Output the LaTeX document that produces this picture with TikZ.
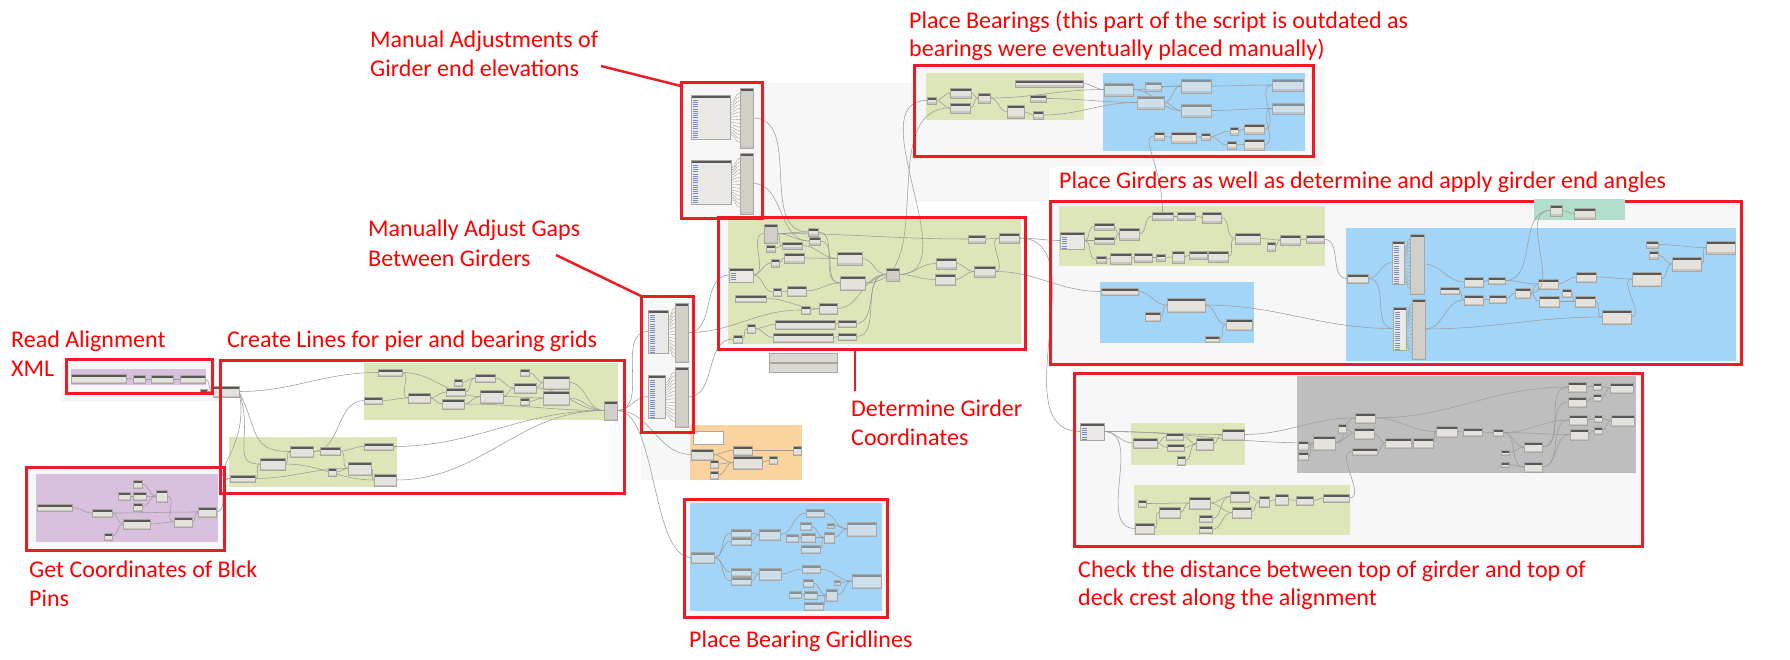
\documentclass[tikz,border=0pt]{standalone}
\usepackage{fontspec}
\setmainfont{Carlito}
\definecolor{rbox}{RGB}{237,28,36}
\definecolor{rtxt}{RGB}{255,0,0}
\definecolor{canvas}{RGB}{247,247,247}
\definecolor{ggreen}{RGB}{220,230,185}
\definecolor{gpurple}{RGB}{216,192,222}
\definecolor{gblue}{RGB}{162,213,247}
\definecolor{gorange}{RGB}{251,211,158}
\definecolor{ggray}{RGB}{190,190,190}
\definecolor{gteal}{RGB}{178,223,203}
\definecolor{nhead}{RGB}{88,88,88}
\definecolor{nbody}{RGB}{228,226,221}
\definecolor{nfoot}{RGB}{200,197,191}
\definecolor{nedge}{RGB}{170,167,160}
\definecolor{fhead}{RGB}{130,145,155}
\definecolor{fbody}{RGB}{206,223,233}
\definecolor{ffoot}{RGB}{180,199,211}
\definecolor{wirec}{RGB}{155,155,155}
\definecolor{listc}{RGB}{120,140,200}
\definecolor{tallc}{RGB}{210,207,201}
\definecolor{wbody}{RGB}{234,232,228}
\definecolor{notec}{RGB}{218,216,211}
\pgfdeclarelayer{bg}
\pgfsetlayers{bg,main}
\tikzset{
 dnode/.style n args={3}{draw=nedge, fill=#2, line width=0.3pt, inner sep=0pt, outer sep=0pt, anchor=north west,
   path picture={\fill[#1] (path picture bounding box.north west) rectangle ([yshift=-2.6pt]path picture bounding box.north east);
                 \fill[#3] (path picture bounding box.south west) rectangle ([yshift=1.5pt]path picture bounding box.south east);}},
 dn/.style={dnode={nhead}{nbody}{nfoot}},
 fz/.style={dnode={fhead}{fbody}{ffoot}},
 tn/.style={dnode={nhead}{tallc}{nfoot}},
 wn/.style={draw=nedge, fill=wbody, line width=0.3pt, inner sep=0pt, outer sep=0pt, anchor=north west,
   path picture={\fill[nhead] (path picture bounding box.north west) rectangle ([yshift=-2.6pt]path picture bounding box.north east);
     \foreach \k in {0,...,17}{\draw[listc,line width=0.5pt] ([xshift=1.5pt,yshift=-5pt-\k*2.2pt]path picture bounding box.north west) -- ++(5pt,0pt);}}},
 nt/.style={draw=nedge, fill=notec, line width=0.3pt, inner sep=0pt, outer sep=0pt, anchor=north west},
 wire/.style={draw=wirec, line width=0.55pt},
 rb/.style={draw=rbox, line width=3pt, inner sep=0pt, outer sep=0pt, anchor=north west},
 ptr/.style={draw=rbox, line width=2.5pt},
 lbl/.style={text=rtxt, font=\fontsize{24}{29}\selectfont, inner sep=0pt, anchor=base west},
}
\newcommand\dnod[6][dn]{\node[#1,minimum width=#5pt,minimum height=#6pt] (#2) at (#3,#4) {};}
\newcommand\dwires[1]{\foreach \a/\b in {#1}{\draw[wire] (\a.east) to[out=0,in=180] (\b.west);}}
\newcommand\rbx[5]{\node[rb,minimum width=#4pt,minimum height=#5pt] (#1) at (#2,#3) {};}
\newcommand\fanw[2]{\foreach \k in {0,...,13}{\draw[wire,line width=0.35pt] ([yshift=-8pt-\k*2.4pt]#1.north east) to[out=0,in=180] ([yshift=-5pt-\k*3.8pt]#2.north west);}}

\begin{document}
\begin{tikzpicture}[x=1pt,y=-1pt]
\useasboundingbox (0,0) rectangle (1790,660);

% ---------------- Read Alignment XML
\dnod{ra1}{71}{374}{55}{9}
\dnod{ra2}{133}{375}{12}{8}
\dnod{ra3}{151}{375}{22}{8}
\dnod{ra4}{180}{375}{25}{8}
\dnod{ra5}{200}{389}{7}{5}
\dnod{ra6}{213}{386}{26}{11}

% ---------------- Create Lines top
\dnod{ct1}{378}{369}{24}{7}
\dnod{ct2}{364}{397}{18}{7}
\dnod{ct3}{408}{393}{22}{10}
\dnod{ct4}{442}{399}{22}{10}
\dnod{ct5}{446}{388}{19}{8}
\dnod{ct6}{454}{379}{8}{7}
\dnod{ct7}{475}{374}{20}{8}
\dnod{ct8}{480}{390}{23}{13}
\dnod{ct9}{514}{383}{22}{10}
\dnod{ct10}{520}{369}{9}{7}
\dnod{ct11}{520}{398}{9}{7}
\dnod{ct12}{543}{376}{26}{13}
\dnod{ct13}{543}{391}{26}{14}
\dnod[tn]{ct14}{604}{401}{13}{19}
% bottom
\dnod{cb1}{290}{446}{23}{11}
\dnod{cb2}{320}{447}{20}{8}
\dnod{cb3}{364}{443}{29}{7}
\dnod{cb4}{260}{458}{25}{12}
\dnod{cb5}{230}{475}{25}{7}
\dnod{cb6}{328}{468}{8}{8}
\dnod{cb7}{348}{462}{23}{13}
\dnod{cb8}{374}{474}{22}{12}

% ---------------- Get Coordinates
\dnod{gc1}{37}{504}{35}{7}
\dnod{gc2}{92}{509}{20}{8}
\dnod{gc3}{123}{519}{27}{10}
\dnod{gc4}{104}{533}{8}{7}
\dnod{gc5}{133}{480}{9}{8}
\dnod{gc6}{118}{492}{12}{8}
\dnod{gc7}{133}{492}{13}{8}
\dnod{gc8}{133}{503}{9}{8}
\dnod{gc9}{156}{490}{11}{12}
\dnod{gc10}{174}{517}{18}{10}
\dnod{gc11}{198}{507}{18}{10}

% ---------------- Manual adjustments
\dnod[wn]{ma1}{691}{95}{39}{44}
\dnod[tn]{ma2}{740}{88}{13}{60}
\dnod[wn]{ma3}{691}{160}{40}{44}
\dnod[tn]{ma4}{740}{153}{13}{61}
\dnod[wn]{mg1}{648}{310}{20}{43}
\dnod[tn]{mg2}{675}{303}{13}{59}
\dnod[wn]{mg3}{648}{375}{17}{43}
\dnod[tn]{mg4}{675}{367}{13}{60}

% ---------------- Determine girder coordinates
\dnod[tn]{d1}{764}{224}{13}{19}
\dnod{d2}{766}{245}{9}{7}
\dnod{d3}{782}{242}{20}{7}
\dnod{d4}{808}{228}{10}{8}
\dnod{d5}{809}{237}{11}{8}
\dnod[wn]{d6}{729}{268}{24}{14}
\dnod{d7}{771}{259}{8}{8}
\dnod{d8}{784}{253}{20}{10}
\dnod{d9}{837}{252}{25}{13}
\dnod{d10}{773}{288}{8}{8}
\dnod{d11}{787}{286}{19}{10}
\dnod{d12}{840}{276}{25}{14}
\dnod[tn]{d13}{886}{268}{13}{13}
\dnod{d14}{936}{258}{20}{11}
\dnod{d15}{935}{274}{20}{11}
\dnod{d16}{974}{266}{21}{11}
\dnod{d17}{968}{235}{17}{8}
\dnod{d18}{999}{233}{20}{10}
\dnod{d19}{735}{295}{31}{7}
\dnod{d20}{801}{306}{9}{8}
\dnod{d21}{819}{303}{18}{11}
\dnod{d22}{747}{324}{8}{9}
\dnod{d23}{733}{335}{9}{8}
\dnod{d24}{775}{320}{60}{9}
\dnod{d25}{773}{333}{60}{9}
\dnod{d26}{838}{320}{18}{7}
\dnod{d27}{838}{333}{18}{7}
\node[nt,minimum width=68pt,minimum height=9pt] (dq1) at (769,353) {};
\node[nt,minimum width=68pt,minimum height=9pt] (dq2) at (769,363) {};

% ---------------- Orange group
\node[nt,fill=white,minimum width=30pt,minimum height=13pt] (or1) at (693,431) {};
\dnod{or2}{691}{449}{22}{11}
\dnod{or3}{710}{460}{8}{8}
\dnod{or4}{710}{471}{8}{8}
\dnod{or5}{733}{446}{19}{9}
\dnod{or6}{733}{456}{29}{13}
\dnod{or7}{769}{456}{8}{8}
\dnod{or8}{793}{446}{8}{9}

% ---------------- Place Bearing Gridlines
\dnod[fz]{bl1}{691}{552}{23}{11}
\dnod[fz]{bl2}{731}{529}{20}{8}
\dnod[fz]{bl3}{731}{537}{20}{8}
\dnod[fz]{bl4}{759}{529}{21}{11}
\dnod[fz]{bl5}{806}{509}{18}{8}
\dnod[fz]{bl6}{800}{522}{11}{8}
\dnod[fz]{bl7}{786}{534}{12}{8}
\dnod[fz]{bl8}{801}{533}{14}{9}
\dnod[fz]{bl9}{801}{545}{19}{8}
\dnod[fz]{bl10}{824}{532}{10}{11}
\dnod[fz]{bl11}{827}{523}{7}{5}
\dnod[fz]{bl12}{847}{522}{29}{14}
\dnod[fz]{bl13}{731}{568}{20}{8}
\dnod[fz]{bl14}{731}{577}{20}{8}
\dnod[fz]{bl15}{759}{568}{22}{12}
\dnod[fz]{bl16}{802}{565}{18}{8}
\dnod[fz]{bl17}{803}{579}{10}{8}
\dnod[fz]{bl18}{789}{591}{12}{7}
\dnod[fz]{bl19}{804}{591}{13}{8}
\dnod[fz]{bl20}{804}{602}{19}{8}
\dnod[fz]{bl21}{826}{589}{11}{12}
\dnod[fz]{bl22}{834}{580}{6}{5}
\dnod[fz]{bl23}{852}{574}{29}{14}

% ---------------- Place Bearings
\dnod{pb1}{927}{97}{9}{7}
\dnod{pb2}{950}{88}{21}{10}
\dnod{pb3}{950}{103}{20}{10}
\dnod{pb4}{978}{93}{12}{10}
\dnod{pb5}{1015}{80}{68}{7}
\dnod{pb6}{1030}{95}{16}{7}
\dnod{pb7}{1007}{105}{17}{13}
\dnod{pb8}{1033}{111}{10}{8}
\dnod[fz]{pbb1}{1104}{83}{29}{13}
\dnod[fz]{pbb2}{1145}{82}{16}{9}
\dnod[fz]{pbb3}{1137}{96}{27}{13}
\dnod[fz]{pbb4}{1181}{79}{30}{14}
\dnod[fz]{pbb5}{1181}{104}{30}{13}
\dnod[fz]{pbb6}{1272}{79}{31}{12}
\dnod[fz]{pbb7}{1272}{103}{32}{11}
\dnod{pbb8}{1154}{132}{10}{8}
\dnod{pbb9}{1171}{132}{25}{11}
\dnod{pbb10}{1201}{133}{9}{7}
\dnod{pbb11}{1230}{127}{8}{8}
\dnod{pbb12}{1244}{124}{20}{10}
\dnod{pbb13}{1227}{141}{9}{8}
\dnod{pbb14}{1244}{139}{20}{11}

% ---------------- Place Girders
\dnod[wn]{pg1}{1060}{232}{24}{17}
\dnod{pg2}{1094}{223}{20}{7}
\dnod{pg3}{1094}{237}{20}{7}
\dnod{pg4}{1119}{228}{20}{12}
\dnod{pg5}{1152}{212}{21}{8}
\dnod{pg6}{1177}{212}{18}{8}
\dnod{pg7}{1202}{212}{19}{11}
\dnod{pg8}{1235}{233}{25}{11}
\dnod{pg9}{1267}{242}{8}{9}
\dnod{pg10}{1280}{235}{20}{10}
\dnod{pg11}{1306}{235}{18}{8}
\dnod{pg12}{1096}{256}{10}{7}
\dnod{pg13}{1110}{253}{21}{11}
\dnod{pg14}{1134}{253}{18}{9}
\dnod{pg15}{1156}{254}{9}{7}
\dnod{pg16}{1172}{251}{12}{12}
\dnod{pg17}{1189}{251}{18}{8}
\dnod{pg18}{1208}{251}{20}{11}
\dnod{pgs1}{1101}{288}{37}{7}
\dnod{pgs2}{1167}{298}{38}{14}
\dnod{pgs3}{1145}{312}{15}{9}
\dnod{pgs4}{1226}{319}{26}{11}
\dnod{pgs5}{1205}{336}{14}{6}
\dnod{pbig1}{1347}{274}{21}{9}
\dnod[wn]{pbig2}{1392}{241}{12}{43}
\dnod[tn]{pbig3}{1410}{234}{14}{60}
\dnod[wn]{pbig4}{1393}{307}{13}{43}
\dnod[tn]{pbig5}{1412}{299}{13}{60}
\dnod{pbig6}{1464}{277}{19}{10}
\dnod{pbig7}{1488}{277}{17}{7}
\dnod{pbig8}{1440}{287}{19}{7}
\dnod{pbig9}{1464}{295}{19}{10}
\dnod{pbig10}{1489}{295}{17}{8}
\dnod{pbig11}{1515}{288}{15}{10}
\dnod{pbig12}{1538}{279}{20}{10}
\dnod{pbig13}{1539}{296}{20}{11}
\dnod{pbig14}{1562}{289}{9}{8}
\dnod{pbig15}{1576}{272}{20}{10}
\dnod{pbig16}{1575}{296}{20}{11}
\dnod{pbig17}{1602}{310}{29}{14}
\dnod{pbig18}{1632}{272}{29}{14}
\dnod{pbig19}{1646}{241}{12}{7}
\dnod{pbig20}{1649}{251}{9}{8}
\dnod{pbig21}{1672}{257}{29}{14}
\dnod{pbig22}{1706}{241}{29}{13}

% ---------------- Check distance
\dnod[wn]{ck1}{1080}{423}{24}{17}
\dnod{cg1}{1133}{438}{24}{10}
\dnod{cg2}{1166}{433}{17}{7}
\dnod{cg3}{1167}{444}{17}{7}
\dnod{cg4}{1196}{438}{17}{12}
\dnod{cg5}{1177}{456}{8}{9}
\dnod{cg6}{1222}{429}{22}{11}
\dnod{k1}{1298}{441}{10}{9}
\dnod{k2}{1298}{452}{10}{8}
\dnod{k3}{1313}{436}{22}{14}
\dnod{k4}{1338}{424}{8}{9}
\dnod{k5}{1355}{413}{20}{10}
\dnod{k6}{1354}{428}{20}{11}
\dnod{k7}{1352}{448}{25}{7}
\dnod{k8}{1385}{438}{26}{10}
\dnod{k9}{1413}{438}{20}{10}
\dnod{k10}{1436}{426}{21}{11}
\dnod{k11}{1463}{428}{19}{8}
\dnod{k12}{1493}{429}{10}{7}
\dnod{k13}{1501}{450}{8}{5}
\dnod{k14}{1501}{462}{8}{5}
\dnod{k15}{1524}{442}{18}{10}
\dnod{k16}{1524}{462}{18}{10}
\dnod{k17}{1568}{382}{18}{10}
\dnod{k18}{1568}{397}{18}{10}
\dnod{k19}{1569}{415}{18}{10}
\dnod{k20}{1570}{429}{18}{11}
\dnod{k21}{1593}{383}{8}{7}
\dnod{k22}{1593}{394}{8}{7}
\dnod{k23}{1594}{415}{8}{7}
\dnod{k24}{1594}{427}{8}{7}
\dnod{k25}{1610}{383}{23}{10}
\dnod{k26}{1611}{415}{23}{11}
\dnod{ch1}{1138}{500}{8}{7}
\dnod{ch2}{1159}{507}{21}{11}
\dnod{ch3}{1189}{497}{21}{12}
\dnod{ch4}{1135}{523}{19}{11}
\dnod{ch5}{1199}{515}{13}{7}
\dnod{ch6}{1199}{526}{13}{7}
\dnod{ch7}{1230}{491}{19}{11}
\dnod{ch8}{1232}{507}{19}{11}
\dnod{ch9}{1259}{496}{10}{11}
\dnod{ch10}{1275}{494}{13}{11}
\dnod{ch11}{1296}{496}{17}{9}
\dnod{ch12}{1323}{494}{26}{8}

% ================= background layer: canvas, groups, wires
\begin{pgfonlayer}{bg}
\fill[white] (0,0) rectangle (1790,660);
\fill[canvas] (61,362) rectangle (222,402);
\fill[canvas] (26,467) rectangle (224,550);
\fill[canvas] (681,83) rectangle (914,218);
\fill[canvas] (914,66) rectangle (1325,168);
\fill[canvas] (914,168) rectangle (1050,202);
\fill[canvas] (718,218) rectangle (1025,349);
\fill[canvas] (641,296) rectangle (693,480);
\fill[canvas] (1050,202) rectangle (1742,364);
\fill[canvas] (1074,373) rectangle (1642,547);
\fill[canvas] (684,499) rectangle (887,618);
\fill[white] (1055,166) rectangle (1672,198);
% groups
\fill[gpurple] (71,369) rectangle (206,385);
\fill[ggreen] (364,363) rectangle (618,420);
\fill[ggreen] (229,437) rectangle (397,487);
\fill[gpurple] (36,474) rectangle (218,542);
\fill[ggreen] (728,219) rectangle (1021,344);
\fill[gorange] (690,425) rectangle (802,480);
\fill[gblue] (690,503) rectangle (882,611);
\fill[ggreen] (926,73) rectangle (1084,120);
\fill[gblue] (1103,73) rectangle (1305,151);
\fill[ggreen] (1059,206) rectangle (1325,266);
\fill[gblue] (1100,282) rectangle (1254,343);
\fill[gblue] (1346,228) rectangle (1736,361);
\fill[ggray] (1297,376) rectangle (1636,473);
\fill[ggreen] (1131,423) rectangle (1245,465);
\fill[ggreen] (1134,485) rectangle (1350,535);
% wires
\dwires{ra1/ra2,ra2/ra3,ra3/ra4,ra4/ra6,ra5/ra6,ra6/ct1}
\draw[wire] (ra6.east) .. controls +(12,55) and +(-25,0) .. (cb5.west);
\draw[wire] (ra6.east) .. controls +(15,45) and +(-30,0) .. (cb4.west);
\draw[wire] (ra6.east) .. controls +(20,40) and +(-40,0) .. (cb1.west);
\dwires{gc1/gc2,gc2/gc3,gc2/gc11,gc4/gc3,gc5/gc9,gc6/gc7,gc7/gc9,gc8/gc9,gc9/gc10,gc3/gc10,gc10/gc11,gc11/cb5}
\dwires{ct1/ct3,ct1/ct8,ct2/ct3,ct3/ct4,ct3/ct5,ct4/ct8,ct5/ct7,ct6/ct7,ct7/ct9,ct8/ct9,ct8/ct13,ct9/ct12,ct10/ct12,ct11/ct13,ct12/ct14,ct13/ct14,ct4/ct14,ct9/ct14}
\dwires{cb5/cb4,cb4/cb1,cb1/cb2,cb2/cb3,cb2/cb7,cb6/cb7,cb7/cb8,cb5/cb7,cb1/ct2,cb3/ct14,cb8/ct14,cb4/cb8}
\dwires{ct14/mg1,ct14/mg3,mg2/d6,mg2/d20,mg4/d23,ct14/or2,ma2/d4,ma4/d5}
\draw[wire] (ct14.east) .. controls +(40,0) and +(-40,0) .. (bl1.west);
\fanw{ma1}{ma2}
\fanw{ma3}{ma4}
\fanw{mg1}{mg2}
\fanw{mg3}{mg4}
\fanw{pbig2}{pbig3}
\fanw{pbig4}{pbig5}
\dwires{d6/d1,d6/d7,d6/d10,d7/d8,d10/d11,d1/d3,d2/d3,d1/d4,d1/d5,d3/d9,d8/d9,d4/d12,d5/d12,d11/d12,d9/d13,d12/d13,d19/d21,d20/d21,d21/d13,d13/d14,d13/d15,d14/d16,d15/d16,d1/d17,d17/d18,d16/d18,d23/d22,d22/d24,d22/d25,d24/d26,d25/d27,d26/d13,d27/d13}
\dwires{d13/pb1,d12/pb3,d18/pg1,d16/pgs1,d18/ck1}
\dwires{or2/or5,or2/or6,or3/or6,or4/or6,or6/or7,or5/or8}
\dwires{bl1/bl2,bl1/bl3,bl1/bl13,bl1/bl14,bl2/bl4,bl3/bl4,bl4/bl5,bl5/bl12,bl6/bl10,bl7/bl8,bl8/bl10,bl9/bl10,bl10/bl12,bl11/bl12,bl13/bl15,bl14/bl15,bl15/bl16,bl16/bl23,bl17/bl21,bl18/bl19,bl19/bl21,bl20/bl21,bl21/bl23,bl22/bl23}
\dwires{pb1/pb2,pb1/pb3,pb2/pb4,pb3/pb4,pb4/pb7,pb7/pb8,pb5/pbb1,pb4/pbb1,pb6/pbb3,pb8/pbb3,pbb1/pbb4,pbb1/pbb5,pbb2/pbb4,pbb3/pbb4,pbb3/pbb5,pbb4/pbb6,pbb5/pbb7,pbb8/pbb9,pbb9/pbb10,pbb10/pbb11,pbb10/pbb13,pbb11/pbb12,pbb13/pbb14,pbb12/pbb6,pbb14/pbb7}
\draw[wire] (pg5.north) .. controls +(0,-45) and +(-15,0) .. (pbb8.west);
\dwires{pg1/pg2,pg1/pg3,pg2/pg4,pg3/pg4,pg4/pg5,pg5/pg6,pg6/pg7,pg7/pg8,pg8/pg10,pg9/pg10,pg10/pg11,pg1/pg12,pg12/pg13,pg13/pg14,pg14/pg15,pg15/pg16,pg16/pg17,pg17/pg18,pg18/pg8,pg11/pbig1}
\dwires{pgs1/pgs2,pgs3/pgs2,pgs2/pgs4,pgs5/pgs4,pgs2/pbig4}
\dwires{pbig1/pbig2,pbig1/pbig4,pbig3/pbig6,pbig5/pbig9,pbig6/pbig7,pbig8/pbig9,pbig9/pbig10,pbig7/pbig12,pbig10/pbig11,pbig11/pbig12,pbig11/pbig13,pbig12/pbig15,pbig13/pbig16,pbig14/pbig16,pbig15/pbig18,pbig16/pbig17,pbig17/pbig18,pbig18/pbig21,pbig19/pbig22,pbig20/pbig21,pbig21/pbig22,pbig5/pbig17}
\dwires{ck1/cg1,ck1/cg6,ck1/ch4,ck1/k3,cg1/cg2,cg1/cg3,cg2/cg4,cg3/cg4,cg5/cg4,cg4/cg6,cg6/k5,k1/k3,k2/k3,k3/k5,k3/k6,k4/k6,k5/k10,k5/k17,k6/k8,k7/k8,k8/k9,k9/k10,k10/k11,k11/k12,k12/k15,k12/k16,k13/k15,k14/k16,k12/k19,k12/k20,k15/k17,k15/k18,k16/k19,k16/k20,k17/k21,k18/k22,k21/k25,k22/k25,k19/k23,k20/k24,k23/k26,k24/k26}
\dwires{ch12/k7,ch1/ch3,ch4/ch2,ch2/ch3,ch3/ch7,ch3/ch8,ch5/ch7,ch6/ch8,ch7/ch9,ch8/ch9,ch9/ch10,ch10/ch11,ch11/ch12}
\end{pgfonlayer}

% ================= red boxes
\rbx{bxRA}{66}{359}{146}{34}
\rbx{bxCL}{220}{360}{404}{133}
\rbx{bxGC}{26}{467}{198}{83}
\rbx{bxMA}{681}{83}{81}{136}
\rbx{bxMG}{641}{296}{52}{136}
\rbx{bxDG}{718}{218}{307}{131}
\rbx{bxPB}{914}{66}{399}{91}
\rbx{bxBG}{684}{499}{203}{118}
\rbx{bxPG}{1050}{202}{691}{162}
\rbx{bxCK}{1074}{373}{568}{173}

% teal group drawn over the red frame
\fill[gteal] (1534,199) rectangle (1625,220);
\dnod{tl1}{1550}{205}{12}{11}
\dnod{tl2}{1574}{208}{21}{11}
\draw[wire] (tl1.east) to[out=0,in=180] (tl2.west);
\draw[wire] (pbig7.east) to[out=0,in=180] (tl1.west);
\draw[wire] (pbig11.east) to[out=0,in=180] (tl1.west);

% pointers
\coordinate (pMA) at (601,66);
\coordinate (pMG) at (556,255);
\coordinate (pDG) at (855,391);
\draw[ptr] (pMA) -- ([yshift=-3pt]bxMA.north west);
\draw[ptr] (pMG) -- (bxMG.north west);
\draw[ptr] (pDG |- bxDG.south) -- (pDG);

% labels
\node[lbl] (t1) at (11,347) {Read Alignment};
\node[lbl] (t2) at (11,376) {XML};
\node[lbl] (t3) at (227,347) {Create Lines for pier and bearing grids};
\node[lbl] (t4) at (29,577) {Get Coordinates of Blck};
\node[lbl] (t5) at (29,606) {Pins};
\node[lbl] (t6) at (370,48) {Manual Adjustments of};
\node[lbl] (t7) at (370,77) {Girder end elevations};
\node[lbl] (t8) at (368,237) {Manually Adjust Gaps};
\node[lbl] (t9) at (368,266) {Between Girders};
\node[lbl] (t10) at (909,29) {Place Bearings (this part of the script is outdated as};
\node[lbl] (t11) at (909,57) {bearings were eventually placed manually)};
\node[lbl] (t12) at (1059,189) {Place Girders as well as determine and apply girder end angles};
\node[lbl] (t13) at (851,416) {Determine Girder};
\node[lbl] (t14) at (851,445) {Coordinates};
\node[lbl] (t15) at (1078,577) {Check the distance between top of girder and top of};
\node[lbl] (t16) at (1078,605) {deck crest along the alignment};
\node[lbl] (t17) at (689,647) {Place Bearing Gridlines};
\end{tikzpicture}
\end{document}
